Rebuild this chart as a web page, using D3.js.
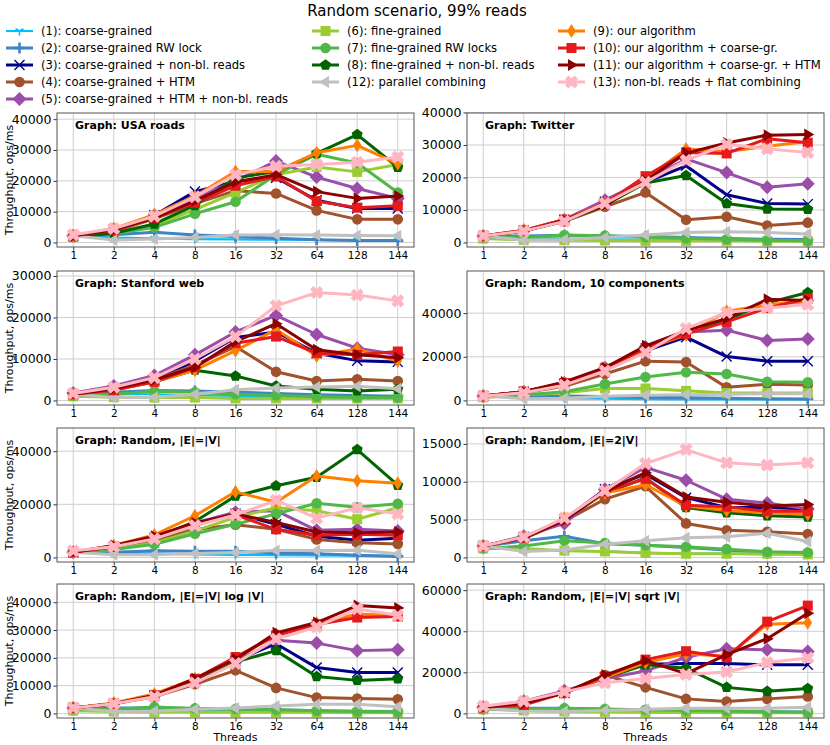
<!DOCTYPE html>
<html><head><meta charset="utf-8">
<script src="https://cdn.jsdelivr.net/npm/d3@7"></script>
<style>body{margin:0;background:#fff} text{font-family:"DejaVu Sans",sans-serif}</style>
</head><body><svg id="c" width="830" height="745"></svg>
<script>
const threads = ["1","2","4","8","16","32","64","128","144"];
const seriesNames = [
  "(1): coarse-grained","(2): coarse-grained RW lock","(3): coarse-grained + non-bl. reads",
  "(4): coarse-grained + HTM","(5): coarse-grained + HTM + non-bl. reads","(6): fine-grained",
  "(7): fine-grained RW locks","(8): fine-grained + non-bl. reads","(9): our algorithm",
  "(10): our algorithm + coarse-gr.","(11): our algorithm + coarse-gr. + HTM",
  "(12): parallel combining","(13): non-bl. reads + flat combining"];
const seriesColors = ["#00bfff","#3f84c4","#00008b","#a0522d","#9b4ea9","#9acd32",
  "#50b848","#006400","#ff7f00","#e41a1c","#8b0000","#c0c0c0","#ffb6c1"];
const seriesMarkers = ["tri","plus","x","circle","D","square","circle","pentagon","d","square","tright","tleft","X"];
const drawOrder = [0,1,2,3,4,5,6,7,11,8,9,10,12];
const panelTitles = ["Graph: USA roads","Graph: Twitter","Graph: Stanford web","Graph: Random, 10 components",
  "Graph: Random, |E|=|V|","Graph: Random, |E|=2|V|","Graph: Random, |E|=|V| log |V|","Graph: Random, |E|=|V| sqrt |V|"];
const yTicks = [
  [0,10000,20000,30000,40000],[0,10000,20000,30000,40000],[0,10000,20000,30000],[0,20000,40000],
  [0,20000,40000],[0,5000,10000,15000],[0,10000,20000,30000,40000],[0,20000,40000,60000]];

const usaRoads = [
 [2200,1600,1300,1100,1000,900,800,700,600],
 [2200,2500,3300,2400,1900,1400,900,600,600],
 [2200,4200,8800,16500,19800,21000,13700,11000,11000],
 [2200,3600,7700,12600,16800,15900,10400,7500,7500],
 [2200,4300,8800,14500,20000,26400,21200,17500,14300],
 [1800,3000,5500,10700,16200,22000,24500,22900,25300],
 [1800,2800,4900,9300,13200,22000,28600,25800,16200],
 [1800,3000,6000,12000,20900,23000,28900,35000,24400],
 [2200,4500,9000,15000,23000,23000,29100,31500,25500],
 [2200,4000,8000,12900,18400,21400,13400,11300,11900],
 [2200,4100,8000,13500,19600,22000,16500,14300,15100],
 [2200,800,1100,1600,2400,2500,2400,2300,2200],
 [2500,4500,8500,14800,22000,24700,25300,26000,27700]];
const twitter = [
 [2000,1500,1200,1000,800,700,600,500,500],
 [2000,2000,2200,2000,1800,1500,1200,1000,900],
 [2000,3600,7000,12500,18500,23600,14700,12000,11800],
 [2000,3500,6500,11000,15400,7000,7900,5200,6100],
 [2000,3600,7000,13000,19000,25700,21500,17000,18100],
 [1200,800,700,600,500,500,500,400,400],
 [1500,1500,2300,2100,1600,1300,1000,700,500],
 [2000,3500,6500,11500,18300,20600,12000,10300,10200],
 [2000,3800,7000,12000,19500,28800,28000,29600,31100],
 [2000,3700,7000,12000,20400,27700,27400,31900,30700],
 [2000,3500,6800,11500,19000,27500,30600,33000,33200],
 [2000,700,800,1500,2300,3100,3300,3100,2600],
 [2000,3500,6500,12000,18500,25300,30200,28800,27700]];
const stanford = [
 [1500,1500,1500,1300,1100,1000,900,800,800],
 [1500,2000,2400,2300,2000,1700,1400,1200,1000],
 [1500,3000,5000,9500,15200,16500,11400,9600,9300],
 [1500,3000,5000,8500,13000,6900,4700,5100,4700],
 [1800,3500,6000,11000,16500,20500,15900,12600,11000],
 [1000,800,700,700,500,500,500,500,500],
 [1200,1500,2200,2000,1500,1200,900,700,700],
 [1500,2500,4500,7300,5900,3500,2700,2300,2700],
 [1500,2500,4500,7300,12000,17100,10700,12400,9500],
 [1500,2500,4500,8000,13800,15400,11400,11000,11800],
 [1500,2800,5000,8000,14200,18500,12200,11000,10300],
 [1500,700,800,1500,2600,3000,3250,3400,2850],
 [1700,3200,5500,10000,15400,22800,26000,25400,24000]];
const random10 = [
 [2000,1500,1000,800,600,500,500,500,500],
 [2000,2000,2000,1800,1500,1300,1000,800,700],
 [2000,4000,7500,14500,22700,29000,20100,18000,18000],
 [2000,3500,6500,12100,18000,17600,6000,7400,7100],
 [2000,4000,8000,15000,24500,31400,32200,27500,28200],
 [1500,2500,3500,5500,5500,4400,3400,3400,3400],
 [1500,2500,4000,7500,10700,12900,12100,8600,8300],
 [2000,4000,8000,14500,24000,31000,36900,44700,49400],
 [2000,4000,8000,14500,23500,30000,40800,43900,45200],
 [2000,4000,8000,14500,24000,30500,36000,42300,46700],
 [2000,4000,8500,15000,25000,32000,37600,46300,45800],
 [2000,800,1000,1900,2400,2600,2800,3100,3100],
 [2000,3500,7000,13500,22000,32900,40300,42300,43900]];
const randomEV = [
 [2000,1800,1500,1200,1000,900,800,700,600],
 [2000,2000,2500,2300,2300,1700,1400,800,400],
 [2000,4000,7000,12000,16500,12500,8000,6500,7200],
 [2000,3500,6500,10500,12300,10600,6800,5500,5100],
 [2000,4000,7500,13000,17000,17600,10200,10600,10000],
 [2000,3000,5500,10000,15100,18700,17600,14400,18700],
 [2000,3000,5000,8900,12500,16400,20400,18900,20200],
 [2000,4000,7500,13500,23100,27000,30200,40600,27200],
 [2000,4500,8500,15700,24700,20800,30700,28900,27900],
 [2000,4000,7500,12500,16000,10600,8400,8700,8400],
 [2000,4500,8000,13000,16400,13200,9600,9300,9600],
 [2000,1000,1000,1500,1900,2600,2600,2700,1400],
 [2500,4000,7000,12000,16000,21500,14800,18700,16400]];
const random2EV = [
 [1500,900,900,800,600,500,500,400,400],
 [1500,2200,2800,1800,1600,1300,1000,600,600],
 [1500,2700,5000,9000,11000,7900,6600,6600,6400],
 [1500,2500,4800,7700,9400,4500,3600,3400,3100],
 [1500,2800,4500,9000,11900,10200,7700,7200,6400],
 [1200,1200,900,800,600,500,500,500,400],
 [1200,1500,2200,1900,1600,1400,1100,750,650],
 [1500,2600,5000,8500,10500,6600,5900,5500,5350],
 [1500,2600,5200,8500,9600,6800,6200,5900,5700],
 [1500,2600,5000,8700,10400,6900,6700,6100,6100],
 [1500,2600,4900,8700,11200,8000,7300,6800,7000],
 [1500,800,1000,1750,2200,2600,2750,3200,2100],
 [1500,2700,5200,8800,12400,14250,12500,12200,12500]];
const randomLog = [
 [1500,1200,1000,900,700,600,500,500,400],
 [2000,2000,2000,1800,1500,1300,1000,800,700],
 [2000,3500,6500,12000,19000,25100,16500,14700,14700],
 [2000,3500,6000,10500,15500,9200,5700,5400,5100],
 [2000,3500,6500,11500,18500,26300,25300,22600,22900],
 [1000,700,500,500,400,400,400,300,300],
 [1500,1500,2300,1800,1600,1300,1000,700,600],
 [2000,3500,6500,11500,18500,22600,13300,11900,12500],
 [2000,3800,7000,12500,19500,28500,32500,35700,35300],
 [2000,3500,6500,12500,20300,28000,32000,34500,34900],
 [2000,3500,6500,12500,19500,29000,32700,38800,37900],
 [2000,700,800,1500,2000,2700,3300,3300,2400],
 [2000,3500,6000,11000,18000,26800,31100,37600,35300]];
const randomSqrt = [
 [2000,1500,1000,800,600,500,500,400,400],
 [2500,2500,2500,2000,1500,1300,1000,800,700],
 [3000,5000,10000,17500,24000,24300,24300,23700,23700],
 [3000,5000,10000,18700,12700,7100,5800,7100,8300],
 [3000,6000,11000,17000,20700,27300,31500,31000,30100],
 [2000,1500,1000,800,600,500,500,400,400],
 [2000,2000,2500,2200,1800,1500,1200,800,600],
 [3000,5500,10000,17500,23700,22000,12700,10800,12100],
 [3000,5500,10000,17500,24800,29000,27800,43400,44200],
 [3000,4100,10000,18000,26200,30300,27300,44700,52500],
 [3000,5000,10000,18700,25700,19400,28600,36400,48800],
 [2500,1200,1000,1500,2000,2500,2500,2500,3000],
 [3500,6000,10500,14900,17000,19000,20200,24800,27000]];
const panelData = [usaRoads, twitter, stanford, random10, randomEV, random2EV, randomLog, randomSqrt];

// ---------- layout ----------
const W = 830, H = 745;
const colX = [57, 467], rowY = [113, 271, 428, 584];
const PW = 357, PH = 134;

const svg = d3.select("#c");
svg.append("rect").attr("width", W).attr("height", H).attr("fill", "#fff");

function addMarker(g, type, color, x, y) {
  const m = g.append("g").attr("transform", `translate(${x},${y})`);
  switch (type) {
    case "tri":
      m.append("path").attr("d", "M0,0V4.5M0,0L-3.9,-2.3M0,0L3.9,-2.3")
        .attr("stroke", color).attr("stroke-width", 1.6).attr("fill", "none"); break;
    case "plus":
      m.append("path").attr("d", "M-5.5,0H5.5M0,-5.5V5.5")
        .attr("stroke", color).attr("stroke-width", 2.6).attr("fill", "none"); break;
    case "x":
      m.append("path").attr("d", "M-5,-5L5,5M-5,5L5,-5")
        .attr("stroke", color).attr("stroke-width", 1.4).attr("fill", "none"); break;
    case "circle":
      m.append("circle").attr("r", 5.3).attr("fill", color); break;
    case "D":
      m.append("path").attr("d", "M0,-7L7,0L0,7L-7,0Z").attr("fill", color); break;
    case "d":
      m.append("path").attr("d", "M0,-7L4.3,0L0,7L-4.3,0Z").attr("fill", color); break;
    case "square":
      m.append("rect").attr("x", -5).attr("y", -5).attr("width", 10).attr("height", 10).attr("fill", color); break;
    case "pentagon": {
      const pts = d3.range(5).map(k => { const a = -Math.PI/2 + k*2*Math.PI/5; return [5.8*Math.cos(a), 5.8*Math.sin(a)]; });
      m.append("path").attr("d", "M" + pts.join("L") + "Z").attr("fill", color); break; }
    case "tright":
      m.append("path").attr("d", "M6.5,0L-3.5,-6L-3.5,6Z").attr("fill", color); break;
    case "tleft":
      m.append("path").attr("d", "M-6.5,0L3.5,-6L3.5,6Z").attr("fill", color); break;
    case "X": {
      const L = 6.8, h = 2.4;
      const pts = [[-h,-L],[h,-L],[h,-h],[L,-h],[L,h],[h,h],[h,L],[-h,L],[-h,h],[-L,h],[-L,-h],[-h,-h]];
      m.append("path").attr("d", "M" + pts.join("L") + "Z").attr("fill", color).attr("transform", "rotate(45)"); break; }
  }
}

// ---------- title ----------
svg.append("text").attr("x", 417).attr("y", 16).attr("text-anchor", "middle")
  .attr("font-size", 15).attr("fill", "#000").text("Random scenario, 99% reads");

// ---------- legend ----------
const legendCols = [[0,1,2,3,4],[5,6,7,11],[8,9,10,12]];
const legendTextX = [41, 347, 593];
legendCols.forEach((col, ci) => {
  col.forEach((si, ri) => {
    const cy = 31 + ri * 17;
    const x0 = legendTextX[ci] - 35;
    const g = svg.append("g");
    g.append("line").attr("x1", x0).attr("x2", x0 + 27).attr("y1", cy).attr("y2", cy)
      .attr("stroke", seriesColors[si]).attr("stroke-width", si === 0 ? 2 : 3);
    addMarker(g, seriesMarkers[si], seriesColors[si], x0 + 13.5, cy);
    g.append("text").attr("x", legendTextX[ci]).attr("y", cy + 4.2).attr("font-size", 11.6)
      .attr("fill", "#000").text(seriesNames[si]);
  });
});

// ---------- panels ----------
panelData.forEach((data, pi) => {
  const col = pi % 2, row = Math.floor(pi / 2);
  const x0 = colX[col], y0 = rowY[row];
  const g = svg.append("g").attr("transform", `translate(${x0},${y0})`);
  const maxV = d3.max(data.flat());
  const top = maxV * 1.2;
  const xi = d3.scaleLinear().domain([-0.4, threads.length - 1 + 0.4]).range([0, PW]);
  const y = d3.scaleLinear().domain([-0.035 * top, top]).range([PH, 0]);

  // grid
  g.append("g").selectAll("line").data(threads).join("line")
    .attr("x1", (d, i) => xi(i)).attr("x2", (d, i) => xi(i)).attr("y1", 0).attr("y2", PH)
    .attr("stroke", "#cfcfcf").attr("stroke-width", 1);
  g.append("g").selectAll("line").data(yTicks[pi]).join("line")
    .attr("x1", 0).attr("x2", PW).attr("y1", d => y(d)).attr("y2", d => y(d))
    .attr("stroke", "#cfcfcf").attr("stroke-width", 1);

  // axes
  const xAxis = d3.axisBottom(d3.scaleOrdinal().domain(threads).range(threads.map((d, i) => xi(i))))
    .tickSizeInner(3.5).tickSizeOuter(0).tickPadding(1.5);
  const xa = g.append("g").attr("transform", `translate(0,${PH})`).call(xAxis);
  xa.select(".domain").remove();
  xa.selectAll("text").attr("font-size", 10.5).attr("fill", "#000").attr("font-family", "DejaVu Sans");
  xa.selectAll("line").attr("stroke", "#333");

  const yAxis = d3.axisLeft(y).tickValues(yTicks[pi]).tickFormat(d3.format("d"))
    .tickSizeInner(3.5).tickSizeOuter(0).tickPadding(2);
  const ya = g.append("g").call(yAxis);
  ya.select(".domain").remove();
  ya.selectAll("text").attr("font-size", 12.5).attr("fill", "#000").attr("font-family", "DejaVu Sans");
  ya.selectAll("line").attr("stroke", "#333");

  // series
  const line = d3.line().x((d, i) => xi(i)).y(d => y(d));
  drawOrder.forEach(si => {
    const sg = g.append("g");
    sg.append("path").attr("d", line(data[si])).attr("fill", "none")
      .attr("stroke", seriesColors[si]).attr("stroke-width", si === 0 ? 2.2 : 3)
      .attr("stroke-linejoin", "round");
    data[si].forEach((v, i) => addMarker(sg, seriesMarkers[si], seriesColors[si], xi(i), y(v)));
  });

  // frame
  g.append("rect").attr("x", 0).attr("y", 0).attr("width", PW).attr("height", PH)
    .attr("fill", "none").attr("stroke", "#555").attr("stroke-width", 1);

  // panel title
  g.append("text").attr("x", 18).attr("y", 15.5).attr("font-size", 11).attr("font-weight", "bold")
    .attr("fill", "#000").text(panelTitles[pi]);

  if (col === 0) {
    svg.append("text").attr("transform", `translate(13,${y0 + PH / 2}) rotate(-90)`)
      .attr("text-anchor", "middle").attr("font-size", 11).attr("fill", "#000").text("Throughput, ops/ms");
  }
  if (row === 3) {
    svg.append("text").attr("x", x0 + PW / 2).attr("y", 741).attr("text-anchor", "middle")
      .attr("font-size", 11).attr("fill", "#000").text("Threads");
  }
});
</script></body></html>
